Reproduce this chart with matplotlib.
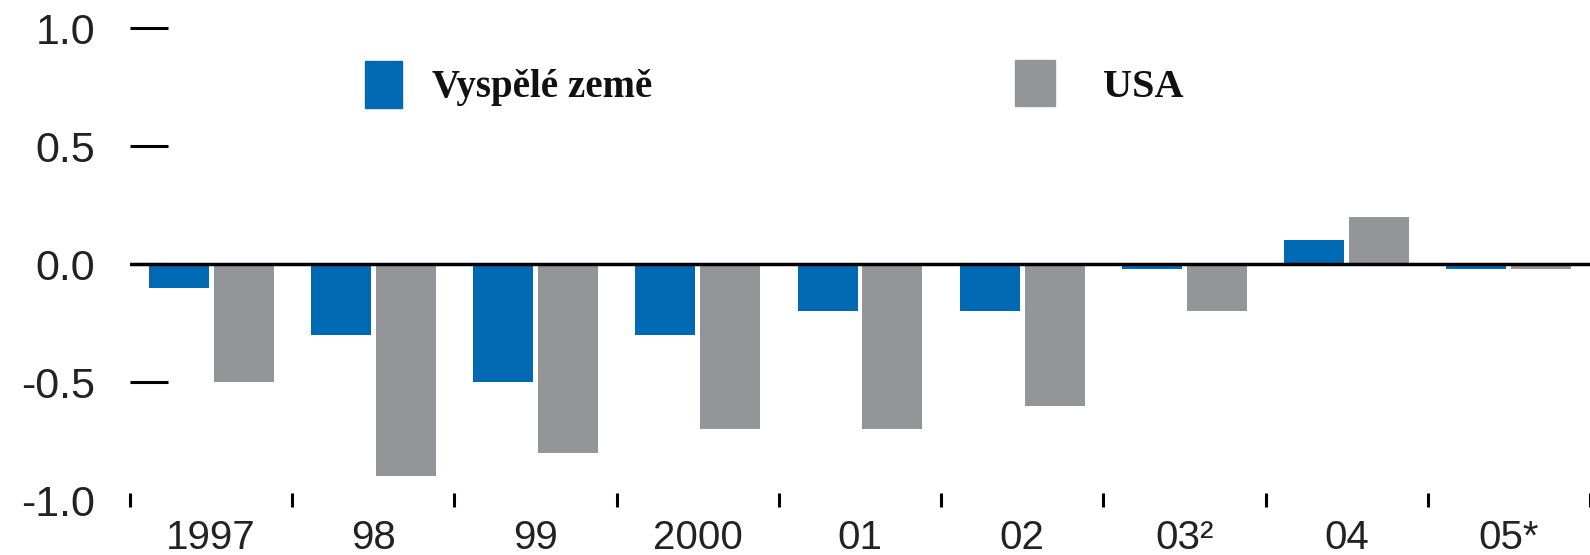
import matplotlib
matplotlib.use("Agg")
import matplotlib.pyplot as plt
from matplotlib.patches import Rectangle
import numpy as np

plt.rcParams["font.family"] = ["Liberation Sans", "DejaVu Sans"]

# data
years = ["1997", "98", "99", "2000", "01", "02", "03²", "04", "05*"]
vyspele = [-0.1, -0.3, -0.5, -0.3, -0.2, -0.2, -0.02, 0.1, -0.02]
usa = [-0.5, -0.9, -0.8, -0.7, -0.7, -0.6, -0.2, 0.2, -0.02]
yticks = [-1.0, -0.5, 0.0, 0.5, 1.0]

BLUE = "#0069b4"
GRAY = "#939598"

fig = plt.figure(figsize=(15.9, 5.55), dpi=100)
ax = fig.add_axes([130 / 1590, 1 - 500 / 555, 1 - 130 / 1590, 500 / 555])

x = np.arange(len(years))
w = 0.37
ax.bar(x - 0.2, vyspele, w, color=BLUE, zorder=2)
ax.bar(x + 0.2, usa, w, color=GRAY, zorder=2)
ax.axhline(0, color="black", lw=2.5, zorder=3)

ax.set_xlim(-0.5, 8.44)
ax.set_ylim(-1.0, 1.119)
for s in ax.spines.values():
    s.set_visible(False)

# y axis: dashes pointing inward
ax.set_yticks(yticks)
ax.set_yticklabels([f"{v:.1f}" for v in yticks])
ax.tick_params(axis="y", direction="in", length=27, width=2.2, pad=25,
               labelsize=31, labelcolor="#222222", color="black")
ax.yaxis.get_major_ticks()[0].tick1line.set_visible(False)

# x axis: labels at centres, small marks between groups
ax.set_xticks(x)
ax.set_xticklabels(years)
ax.set_xticks(np.arange(-0.5, 9.0, 1.0), minor=True)
ax.tick_params(axis="x", which="major", length=0, pad=14, labelsize=29,
               labelcolor="#222222")
ax.tick_params(axis="x", which="minor", direction="inout", length=10,
               width=2.2, color="black")

# legend
serif = ["Liberation Serif", "DejaVu Serif"]
fig.patches.append(Rectangle((365 / 1590, 1 - 108 / 555), 37 / 1590, 47 / 555,
                             transform=fig.transFigure, color=BLUE))
fig.patches.append(Rectangle((1015 / 1590, 1 - 106 / 555), 40 / 1590, 46 / 555,
                             transform=fig.transFigure, color=GRAY))
fig.text(432 / 1590, 1 - 88 / 555, "Vyspělé země", fontsize=28, fontweight="bold",
         family=serif, va="center", color="#111111")
fig.text(1103 / 1590, 1 - 88 / 555, "USA", fontsize=29, fontweight="bold",
         family=serif, va="center", color="#111111")

fig.savefig("out.png", dpi=100, facecolor="white")
